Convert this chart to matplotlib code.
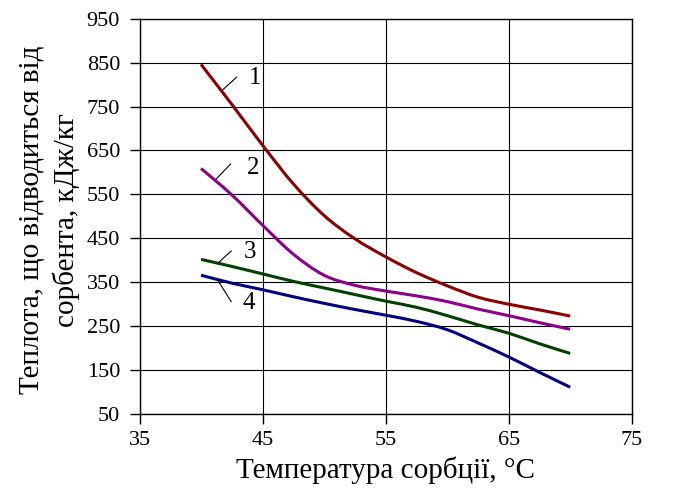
import matplotlib.pyplot as plt
from matplotlib.path import Path
from matplotlib.patches import PathPatch

plt.rcParams['font.family'] = ['Liberation Serif', 'DejaVu Serif']

# температура сорбції, °C
temp = [40, 42.5, 45, 47.5, 50, 52.5, 55, 57.5, 60, 62.5, 65, 67.5, 70]

# теплота, кДж/кг
q1 = [846, 755, 662, 574, 502, 449, 408, 372, 342, 316, 300, 287, 273]
q2 = [609, 549, 480, 414, 366, 343, 330, 319, 306, 289, 274, 258, 243]
q3 = [402, 386, 369, 352, 337, 322, 307, 293, 274, 253, 234, 210, 188]
q4 = [366, 348, 333, 317, 302, 288, 275, 261, 242, 212, 180, 145, 111]

series = [q1, q2, q3, q4]
colors = ['#8b0000', '#8b008b', '#004000', '#000080']
labels = ['1', '2', '3', '4']
# підписи кривих: (x, y) тексту, початок і кінець виноски
notes = [
    ((44.4, 814), (42.9, 817), (41.8, 789)),
    ((44.2, 610), (42.4, 619), (41.2, 584)),
    ((43.95, 418), (42.45, 421), (41.35, 393)),
    ((43.9, 302), (42.45, 306), (41.35, 355)),
]


def smooth_path(xs, ys):
    # згладжена лінія як в Excel: кубічні сплайни Безьє між точками
    pts = list(zip(xs, ys))
    verts = [pts[0]]
    codes = [Path.MOVETO]
    n = len(pts)
    for i in range(n - 1):
        p0 = pts[i - 1] if i > 0 else pts[i]
        p1 = pts[i]
        p2 = pts[i + 1]
        p3 = pts[i + 2] if i + 2 < n else pts[i + 1]
        c1 = (p1[0] + (p2[0] - p0[0]) / 6, p1[1] + (p2[1] - p0[1]) / 6)
        c2 = (p2[0] - (p3[0] - p1[0]) / 6, p2[1] - (p3[1] - p1[1]) / 6)
        verts += [c1, c2, p2]
        codes += [Path.CURVE4] * 3
    return Path(verts, codes)


fig = plt.figure(figsize=(6.94, 5.0), dpi=100)
ax = fig.add_axes([139.5 / 694, 1 - 414 / 500, (631.7 - 139.5) / 694, (414 - 18.7) / 500])

for q, c in zip(series, colors):
    ax.add_patch(PathPatch(smooth_path(temp, q), facecolor='none', edgecolor=c,
                           lw=2.2, capstyle='butt', zorder=3))

for lab, (txt, p0, p1) in zip(labels, notes):
    ax.plot([p0[0], p1[0]], [p0[1], p1[1]], color='black', lw=0.8, zorder=4)
    ax.text(txt[0], txt[1], lab, fontsize=18, ha='center', va='center')

ax.set_xlim(35, 75)
ax.set_ylim(50, 950)
ax.set_xticks(range(35, 76, 10))
ax.set_yticks(range(50, 951, 100))
ax.grid(True, color='black', lw=0.8)
for s in ax.spines.values():
    s.set_linewidth(1.0)
ax.tick_params(axis='x', direction='out', length=7, width=1, labelsize=16, pad=5)
ax.tick_params(axis='y', direction='out', length=7, width=1, labelsize=16, pad=7)

ax.set_xlabel('Температура сорбції, °С', fontsize=21)
ax.set_ylabel('Теплота, що відводиться від\nсорбента, кДж/кг', fontsize=21,
              linespacing=1.35)
ax.xaxis.set_label_coords(0.499, -0.108)
ax.yaxis.set_label_coords(-0.12, 0.49)

fig.savefig('out.png', dpi=100)
